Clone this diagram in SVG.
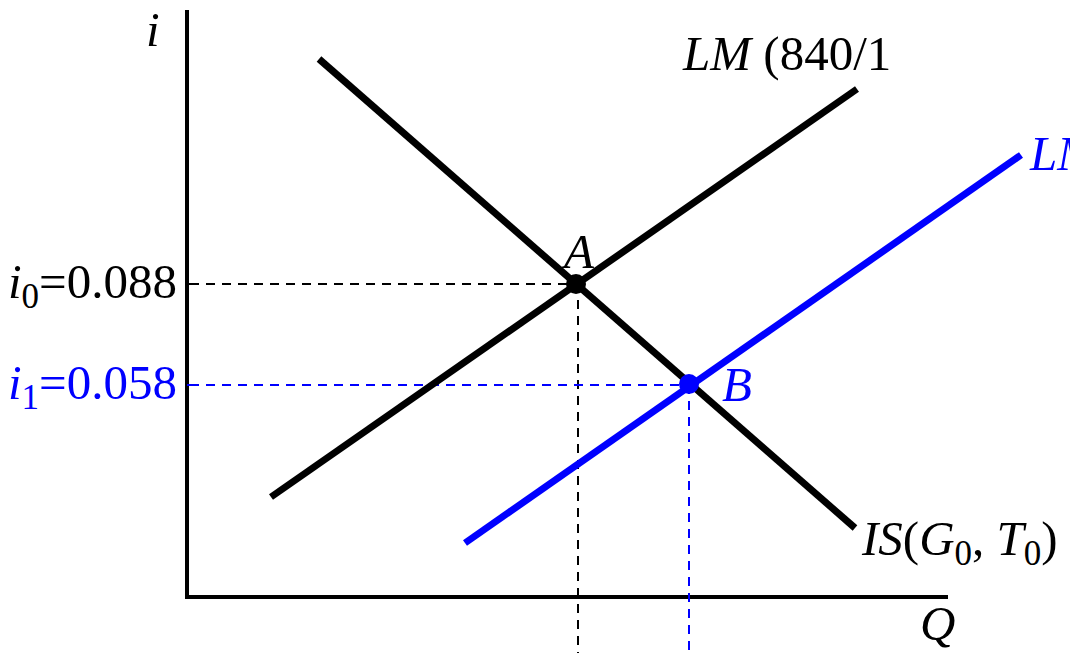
<svg xmlns="http://www.w3.org/2000/svg" width="1070" height="653" viewBox="0 0 1070 653">
<style>
text{font-family:"Liberation Serif","Times New Roman",serif;font-size:49px}
.it{font-style:italic}
.k{fill:#000}
.b{fill:#0000ff}
.axis{stroke:#000;stroke-width:4;fill:none}
.curve{stroke-width:7;fill:none;stroke-linecap:butt}
.dk{stroke:#000;stroke-width:2;stroke-dasharray:9,7;fill:none}
.db{stroke:#0000ff;stroke-width:2;stroke-dasharray:9,7;fill:none}
.sub{font-size:35px}
</style>
<rect width="1070" height="653" fill="#fff"/>
<g id="axes">
<path class="axis" d="M187,10 V597 H948"/>
<path d="M187,284 H196" stroke="#000" stroke-width="2"/>
<path d="M187,385 H196" stroke="#0000ff" stroke-width="2"/>
<text class="it k" x="146" y="46">i</text>
<text class="it k" x="920" y="640">Q</text>
</g>
<g id="connectors">
<path class="dk" d="M190,284 H576 M578,284 V653"/>
<path class="db" d="M190,385 H689 M689,385 V653"/>
</g>
<g id="LM0">
<path class="curve" stroke="#000" d="M271,497 L857,89"/>
<text class="k" x="683" y="70"><tspan class="it">LM</tspan> (840/1</text>
</g>
<g id="IS">
<path class="curve" stroke="#000" d="M319,59 L855,528"/>
<text class="k" x="862" y="555"><tspan class="it">IS</tspan>(<tspan class="it">G</tspan><tspan class="sub" dy="10">0</tspan><tspan dy="-10">, </tspan><tspan class="it">T</tspan><tspan class="sub" dy="10">0</tspan><tspan dy="-10">)</tspan></text>
</g>
<g id="LM1">
<path class="curve" stroke="#0000ff" d="M465,543 L1021,155"/>
<text class="it b" x="1030" y="170">LM</text>
</g>
<g id="A">
<circle cx="576" cy="284" r="10" fill="#000"/>
<text class="it k" x="564" y="268">A</text>
</g>
<g id="B">
<circle cx="689" cy="384" r="10" fill="#0000ff"/>
<text class="it b" x="722" y="401">B</text>
</g>
<g id="i0">
<text class="k" x="177" y="298" text-anchor="end"><tspan class="it">i</tspan><tspan class="sub" dy="10">0</tspan><tspan dy="-10">=0.088</tspan></text>
</g>
<g id="i1">
<text class="b" x="177" y="399" text-anchor="end"><tspan class="it">i</tspan><tspan class="sub" dy="10">1</tspan><tspan dy="-10">=0.058</tspan></text>
</g>
</svg>
